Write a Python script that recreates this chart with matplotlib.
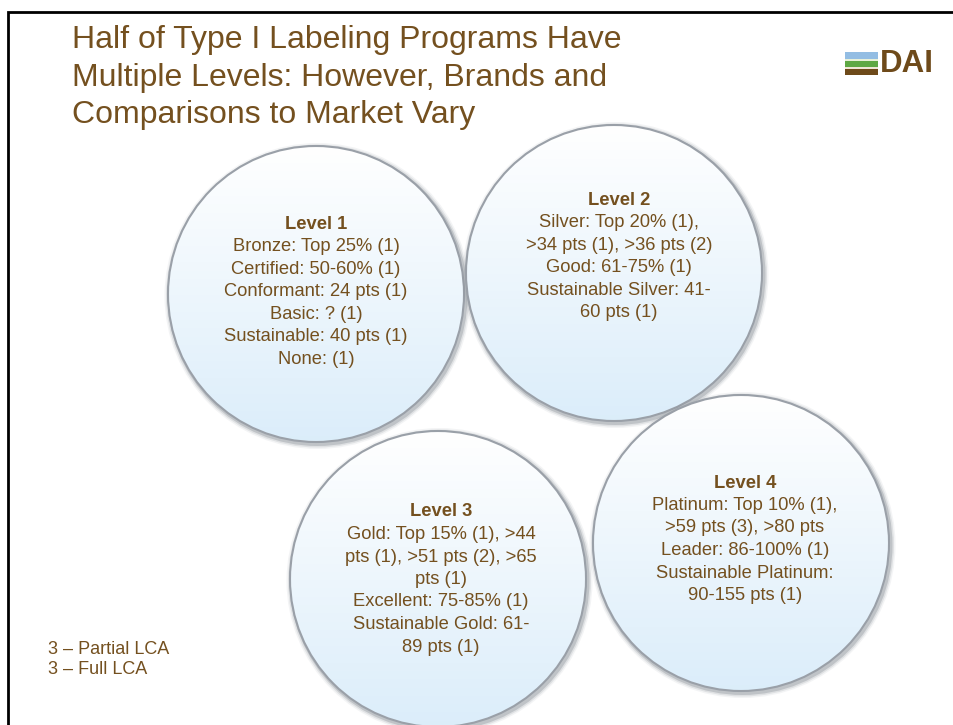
import numpy as np
import matplotlib
matplotlib.use("Agg")
import matplotlib.pyplot as plt
from matplotlib.patches import Circle, Rectangle

# slide text
title_lines = ["Half of Type I Labeling Programs Have",
               "Multiple Levels: However, Brands and",
               "Comparisons to Market Vary"]
level_names = ["Level 1", "Level 2", "Level 3", "Level 4"]
level_items = [
    ["Bronze: Top 25% (1)", "Certified: 50-60% (1)", "Conformant: 24 pts (1)",
     "Basic: ? (1)", "Sustainable: 40 pts (1)", "None: (1)"],
    ["Silver: Top 20% (1),", ">34 pts (1), >36 pts (2)", "Good: 61-75% (1)",
     "Sustainable Silver: 41-", "60 pts (1)"],
    ["Gold: Top 15% (1), >44", "pts (1), >51 pts (2), >65", "pts (1)",
     "Excellent: 75-85% (1)", "Sustainable Gold: 61-", "89 pts (1)"],
    ["Platinum: Top 10% (1),", ">59 pts (3), >80 pts", "Leader: 86-100% (1)",
     "Sustainable Platinum:", "90-155 pts (1)"],
]
notes = ["3 \u2013 Partial LCA", "3 \u2013 Full LCA"]

# layout (pixels)
circ_x = [316, 614, 438, 741]
circ_y = [294, 273, 579, 543]
circ_r = 148
text_x = [316, 619, 441, 745]
text_top = [224, 200, 512, 483]
line_h = 22.5

brown = "#74501f"
plt.rcParams['font.family'] = ['Liberation Sans', 'DejaVu Sans']

fig = plt.figure(figsize=(9.54, 7.25), dpi=100)
ax = fig.add_axes([0, 0, 1, 1])
ax.set_xlim(0, 954)
ax.set_ylim(725, 0)
ax.axis("off")

# slide frame
ax.plot([8, 8, 954], [725, 12, 12], color="black", lw=2, solid_joinstyle="miter")

# gradient for the bubbles: white at top, pale blue at bottom
grad = np.linspace(0, 1, 256)[:, None]
top_c = np.array([1.0, 1.0, 1.0])
bot_c = np.array([0.86, 0.93, 0.98])
img = top_c * (1 - grad[..., None]) + bot_c * grad[..., None]
img = np.repeat(img, 2, axis=1)

for i in range(4):
    cx, cy = circ_x[i], circ_y[i]
    # soft shadow rim
    for k, a in [(5, 0.08), (3.5, 0.15), (2, 0.28)]:
        ax.add_patch(Circle((cx + 1.5, cy + 2), circ_r + k, facecolor="#6f7780",
                            edgecolor="none", alpha=a, zorder=2 + i))
    c = Circle((cx, cy), circ_r, facecolor="none", edgecolor="#9aa0a8",
               lw=1.5, zorder=2.5 + i)
    ax.add_patch(c)
    im = ax.imshow(img, extent=[cx - circ_r, cx + circ_r, cy + circ_r, cy - circ_r],
                   zorder=2.4 + i, aspect="auto")
    im.set_clip_path(c)
    ax.text(text_x[i], text_top[i], level_names[i], ha="center", va="center",
            fontsize=13.2, fontweight="bold", color=brown, zorder=10)
    for j, s in enumerate(level_items[i]):
        ax.text(text_x[i], text_top[i] + line_h * (j + 1), s, ha="center", va="center",
                fontsize=13.2, color=brown, zorder=10)

ax.set_xlim(0, 954)
ax.set_ylim(725, 0)

# title
for j, s in enumerate(title_lines):
    ax.text(72, 40 + 37.5 * j, s, ha="left", va="center", fontsize=23, color=brown)

# notes
for j, s in enumerate(notes):
    ax.text(48, 649 + 21 * j, s, ha="left", va="center", fontsize=13, color=brown)

# DAI logo
ax.add_patch(Rectangle((845, 52), 33, 7, color="#93bde3", lw=0))
ax.add_patch(Rectangle((845, 59), 33, 2, color="#e8f0d8", lw=0))
ax.add_patch(Rectangle((845, 61), 33, 6, color="#5ea844", lw=0))
ax.add_patch(Rectangle((845, 67), 33, 2, color="#efe6d6", lw=0))
ax.add_patch(Rectangle((845, 69), 33, 6, color="#6e4a1a", lw=0))
ax.text(880, 64, "DAI", ha="left", va="center", fontsize=22.5, fontweight="bold",
        color="#6e4a1a")

fig.savefig("out.png", dpi=100)
